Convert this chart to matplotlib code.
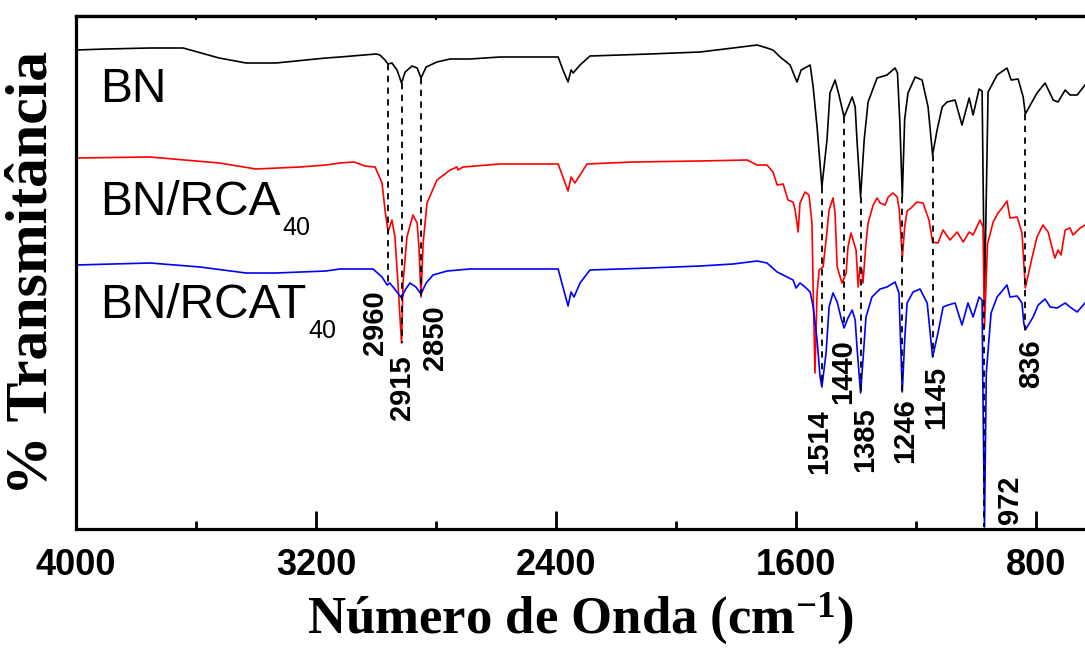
import numpy as np
import matplotlib
matplotlib.use("Agg")
import matplotlib.pyplot as plt

plt.rcParams["mathtext.fontset"] = "custom"
plt.rcParams["mathtext.rm"] = "Liberation Serif:bold"
plt.rcParams["mathtext.bf"] = "Liberation Serif:bold"
plt.rcParams["mathtext.it"] = "Liberation Serif:bold:italic"

# FTIR spectra (wavenumber in cm-1, stacked transmittance in arbitrary units)
bn_wn = [4000, 3900, 3753, 3643, 3523, 3433, 3333, 3167, 3120, 3000, 2987, 2970,
         2960, 2947, 2930, 2915, 2903, 2880, 2863, 2850, 2833, 2797, 2753, 2687,
         2587, 2393, 2377, 2360, 2350, 2343, 2320, 2287, 2087, 1920, 1810, 1730,
         1697, 1677, 1653, 1620, 1597, 1583, 1553, 1543, 1530, 1514, 1497, 1487,
         1470, 1457, 1440, 1413, 1403, 1397, 1385, 1373, 1360, 1330, 1297, 1270,
         1262, 1254, 1246, 1238, 1227, 1203, 1180, 1160, 1145, 1130, 1113, 1097,
         1070, 1047, 1023, 1010, 990, 980, 972, 960, 930, 897, 883, 860, 843, 836,
         797, 770, 743, 727, 703, 687, 663, 637]
bn_t = [479, 480, 481, 481, 471, 466, 466, 471, 472, 475, 474, 469,
        465, 466, 459, 446, 457, 463, 461, 451, 462, 467, 470, 470,
        472, 472, 459, 447, 459, 456, 464, 473, 475, 477, 481, 484,
        481, 479, 472, 464, 447, 459, 464, 442, 402, 342, 389, 436,
        449, 434, 412, 432, 422, 389, 332, 389, 427, 451, 454, 461,
        456, 406, 332, 410, 436, 452, 449, 422, 374, 399, 422, 427,
        429, 404, 431, 414, 440, 438, 229, 437, 454, 461, 449, 450, 432, 415,
        436, 446, 429, 427, 439, 434, 434, 444]

rca_wn = [4000, 3753, 3523, 3400, 3253, 3167, 3120, 3073, 3037, 3003, 2980, 2970,
          2960, 2947, 2937, 2927, 2915, 2910, 2897, 2877, 2863, 2857, 2850, 2843,
          2830, 2797, 2753, 2730, 2727, 2710, 2587, 2393, 2377, 2360, 2350, 2337,
          2297, 2143, 1920, 1763, 1730, 1697, 1677, 1663, 1643, 1627, 1610, 1603,
          1593, 1587, 1570, 1557, 1547, 1543, 1537, 1530, 1523, 1510, 1500, 1490,
          1477, 1470, 1463, 1447, 1433, 1427, 1417, 1407, 1400, 1393, 1387, 1380,
          1377, 1367, 1360, 1343, 1330, 1320, 1303, 1293, 1277, 1263, 1256, 1246,
          1238, 1230, 1217, 1197, 1177, 1157, 1145, 1127, 1110, 1087, 1063, 1043,
          1023, 1010, 987, 977, 972, 962, 943, 927, 913, 897, 887, 863, 847, 841,
          836, 813, 797, 777, 760, 743, 737, 727, 717, 703, 687, 677, 653, 637]
rca_t = [371, 372, 366, 360, 362, 364, 366, 367, 363, 362, 346, 319,
         297, 309, 292, 246, 186, 246, 292, 314, 306, 282, 232, 286,
         326, 349, 359, 362, 359, 362, 365, 365, 352, 338, 352, 346,
         365, 367, 368, 369, 364, 364, 357, 344, 345, 329, 327, 319,
         297, 326, 337, 334, 306, 239, 156, 236, 259, 262, 289, 319,
         331, 316, 262, 246, 256, 282, 296, 286, 279, 242, 262, 259,
         246, 286, 306, 324, 331, 326, 324, 332, 336, 332, 319, 271,
         302, 318, 321, 327, 326, 309, 287, 286, 299, 289, 297, 287,
         297, 294, 309, 302, 202, 285, 307, 316, 321, 328, 311, 312, 296, 266,
         241, 272, 292, 304, 297, 277, 271, 279, 274, 299, 301, 294, 301, 304]

rcat_wn = [4000, 3753, 3587, 3433, 3333, 3167, 3120, 3010, 2980, 2963, 2955, 2943,
           2915, 2903, 2887, 2867, 2850, 2833, 2810, 2763, 2687, 2393, 2377, 2360,
           2350, 2340, 2320, 2287, 2087, 1920, 1810, 1730, 1697, 1663, 1630, 1610,
           1600, 1587, 1570, 1553, 1543, 1530, 1520, 1514, 1500, 1490, 1477, 1463,
           1450, 1440, 1427, 1413, 1403, 1397, 1385, 1377, 1367, 1347, 1320, 1297,
           1270, 1257, 1252, 1246, 1238, 1230, 1210, 1187, 1163, 1153, 1145, 1127,
           1110, 1093, 1070, 1047, 1027, 1010, 990, 980, 978, 972, 966, 950, 930,
           897, 887, 863, 847, 841, 836, 810, 793, 770, 753, 730, 703, 687, 663, 637]
rcat_t = [264, 266, 262, 256, 256, 258, 260, 260, 252, 244, 246, 242,
          231, 239, 246, 242, 235, 246, 254, 258, 260, 260, 242, 223,
          237, 232, 246, 259, 261, 263, 265, 268, 266, 257, 252, 249,
          241, 246, 242, 237, 222, 189, 152, 142, 176, 222, 236, 227,
          211, 201, 211, 219, 209, 182, 136, 169, 212, 232, 240, 242,
          247, 236, 190, 137, 189, 226, 237, 240, 226, 196, 172, 196,
          222, 224, 226, 204, 226, 212, 232, 229, 156, 2, 156, 216, 232,
          244, 232, 233, 226, 206, 199, 212, 224, 230, 222, 221, 226, 222, 217, 226]

peaks = [2960, 2915, 2850, 1514, 1440, 1385, 1246, 1145, 972, 836]

series = [("BN", bn_wn, bn_t, "black"),
          ("BN/RCA", rca_wn, rca_t, "red"),
          ("BN/RCAT", rcat_wn, rcat_t, "blue")]

# label placement (data y of label centre, horizontal shift in px)
peak_label_y = [206, 141, 191, 87, 157, 89, 98, 132, 29, 165]
peak_label_dx = [-13, 0, 14, -3, -1, 5, 3, 4, 26, 6]
name_label_y = [427, 314, 211]

fig = plt.figure(figsize=(10.85, 6.5), dpi=100)
ax = fig.add_axes([76 / 1085, 121 / 650, 1 - 76 / 1085, 513 / 650])

for name, wn, t, color in series:
    ax.plot(wn, t, color=color, lw=1.2, zorder=2)

# dashed guides from the BN band down to the deepest of the three curves
for p in peaks:
    vals = [np.interp(p, wn[::-1], t[::-1]) for _, wn, t, _ in series]
    ax.plot([p, p], [vals[0], min(vals)], color="black", lw=1.3,
            ls=(0, (3.5, 3)), zorder=3)

for p, y, dx in zip(peaks, peak_label_y, peak_label_dx):
    ax.annotate(str(p), xy=(p, y), xytext=(dx * 0.72, 0), textcoords="offset points",
                rotation=90, ha="center", va="center", fontsize=21,
                fontweight="bold", family="Liberation Sans", zorder=4)

for (name, _, _, _), y in zip(series, name_label_y):
    txt = ax.text(3920, y, name, fontsize=34.5, family="Liberation Sans",
                  va="baseline", ha="left")
    if name != "BN":
        ax.annotate("40", xy=(1, 0), xycoords=txt, xytext=(1.5, -7.5),
                    textcoords="offset points", fontsize=18,
                    family="Liberation Sans", va="baseline", ha="left")

ax.set_xlim(4000, 637)
ax.set_ylim(0, 513)
ax.set_yticks([])
ax.set_xticks([4000, 3200, 2400, 1600, 800])
ax.set_xticks([3600, 2800, 2000, 1200], minor=True)
ax.tick_params(axis="x", which="major", direction="in", length=13, width=2,
               pad=14, labelsize=26)
ax.tick_params(axis="x", which="minor", direction="in", length=6, width=2)
for lbl in ax.get_xticklabels():
    lbl.set_fontweight("bold")
    lbl.set_family("Liberation Sans")

top = ax.secondary_xaxis("top")
top.set_xticks([4000, 3600, 3200, 2800, 2400, 2000, 1600, 1200, 800])
top.tick_params(direction="in", length=3, width=1.5, labeltop=False)
top.spines["top"].set_linewidth(2.3)

for side in ["left", "bottom", "top"]:
    ax.spines[side].set_linewidth(2.3)
ax.spines["right"].set_visible(False)

ax.set_xlabel("Número de Onda (cm$^{-1}$)", fontsize=38, fontweight="bold",
              family="Liberation Serif", labelpad=5)
ax.set_ylabel("% Transmitância", fontsize=43, fontweight="bold",
              family="Liberation Serif", labelpad=12)

fig.savefig("out.png", dpi=100)
